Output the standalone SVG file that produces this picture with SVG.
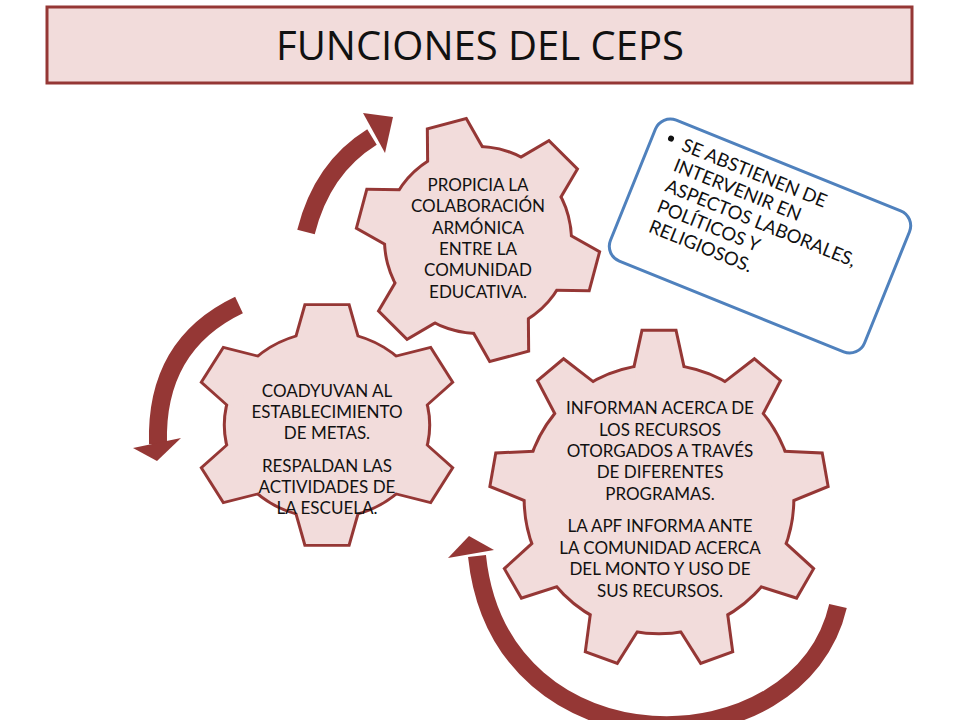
<svg xmlns="http://www.w3.org/2000/svg" xmlns:xlink="http://www.w3.org/1999/xlink" width="960" height="720" viewBox="0 0 960 720">
<style>
.t{font-family:Lato,"Open Sans",sans-serif;font-size:17px;fill:#111;text-anchor:middle}
.arr{fill:none;stroke:#953735;stroke-width:18}
.head{fill:#953735}
</style>
<defs>
<g id="g6">
<circle r="92"/>
<polygon id="t6" points="-27,-80 -27,-88 -19,-119 19,-119 27,-88 27,-80"/>
<use xlink:href="#t6" transform="rotate(60)"/>
<use xlink:href="#t6" transform="rotate(120)"/>
<use xlink:href="#t6" transform="rotate(180)"/>
<use xlink:href="#t6" transform="rotate(240)"/>
<use xlink:href="#t6" transform="rotate(300)"/>
</g>
<g id="g9">
<circle r="118"/>
<polygon id="t9" points="-21,-100 -21,-116 -14,-148 14,-148 21,-116 21,-100"/>
<use xlink:href="#t9" transform="rotate(40)"/>
<use xlink:href="#t9" transform="rotate(80)"/>
<use xlink:href="#t9" transform="rotate(120)"/>
<use xlink:href="#t9" transform="rotate(160)"/>
<use xlink:href="#t9" transform="rotate(200)"/>
<use xlink:href="#t9" transform="rotate(240)"/>
<use xlink:href="#t9" transform="rotate(280)"/>
<use xlink:href="#t9" transform="rotate(320)"/>
</g>
</defs>
<rect width="960" height="720" fill="#fff"/>
<g id="title">
<rect x="47" y="7" width="865" height="76" fill="#f2dcdb" stroke="#953735" stroke-width="3"/>
<text x="480" y="60" style="font-family:'Open Sans','Noto Sans',sans-serif;font-size:40px;fill:#111;text-anchor:middle">FUNCIONES DEL CEPS</text>
</g>
<g id="connectors">
<path class="arr" d="M 306 232 Q 322 168 372 137"/>
<polygon class="head" points="363,113 393,117 385,153"/>
<path class="arr" d="M 239 305 Q 155 345 158 444"/>
<polygon class="head" points="133,448 181,438 157,461"/>
<path class="arr" d="M 838 606 C 800 770, 500 775, 477 556"/>
<polygon class="head" points="448,558 469,536 494,550"/>
</g>
<g id="gear-left">
<use xlink:href="#g6" transform="translate(327,425) scale(1.1,1.0)" fill="#953735" stroke="#953735" stroke-width="5.5"/>
<use xlink:href="#g6" transform="translate(327,425) scale(1.1,1.0)" fill="#f2dcdb"/>
<text class="t"><tspan x="327" y="397">COADYUVAN AL</tspan><tspan x="327" y="418">ESTABLECIMIENTO</tspan><tspan x="327" y="439">DE METAS.</tspan><tspan x="327" y="472">RESPALDAN LAS</tspan><tspan x="327" y="493">ACTIVIDADES DE</tspan><tspan x="327" y="514">LA ESCUELA.</tspan></text>
</g>
<g id="gear-top">
<use xlink:href="#g6" transform="translate(478,240) rotate(-15)" fill="#953735" stroke="#953735" stroke-width="6"/>
<use xlink:href="#g6" transform="translate(478,240) rotate(-15)" fill="#f2dcdb"/>
<text class="t"><tspan x="478" y="191">PROPICIA LA</tspan><tspan x="478" y="212">COLABORACIÓN</tspan><tspan x="478" y="234">ARMÓNICA</tspan><tspan x="478" y="255">ENTRE LA</tspan><tspan x="478" y="276">COMUNIDAD</tspan><tspan x="478" y="298">EDUCATIVA.</tspan></text>
</g>
<g id="gear-big">
<use xlink:href="#g9" transform="translate(659,499) scale(1.13)" fill="#953735" stroke="#953735" stroke-width="5.3"/>
<use xlink:href="#g9" transform="translate(659,499) scale(1.13)" fill="#f2dcdb"/>
<text class="t"><tspan x="660" y="414">INFORMAN ACERCA DE</tspan><tspan x="660" y="436">LOS RECURSOS</tspan><tspan x="660" y="457">OTORGADOS A TRAVÉS</tspan><tspan x="660" y="478">DE DIFERENTES</tspan><tspan x="660" y="500">PROGRAMAS.</tspan><tspan x="660" y="532">LA APF INFORMA ANTE</tspan><tspan x="660" y="554">LA COMUNIDAD ACERCA</tspan><tspan x="660" y="575">DEL MONTO Y USO DE</tspan><tspan x="660" y="597">SUS RECURSOS.</tspan></text>
</g>
<g id="note" transform="translate(760,236) rotate(22)">
<rect x="-137" y="-76" width="274" height="152" rx="16" fill="#fff" stroke="#4f81bd" stroke-width="3"/>
<circle cx="-119" cy="-57" r="3" fill="#111"/>
<text style="font-family:Lato,'Open Sans',sans-serif;font-size:18.5px;fill:#111"><tspan x="-106" y="-50">SE ABSTIENEN DE</tspan><tspan x="-106" y="-28">INTERVENIR EN</tspan><tspan x="-106" y="-6">ASPECTOS LABORALES,</tspan><tspan x="-106" y="16">POLÍTICOS Y</tspan><tspan x="-106" y="38">RELIGIOSOS.</tspan></text>
</g>
</svg>
